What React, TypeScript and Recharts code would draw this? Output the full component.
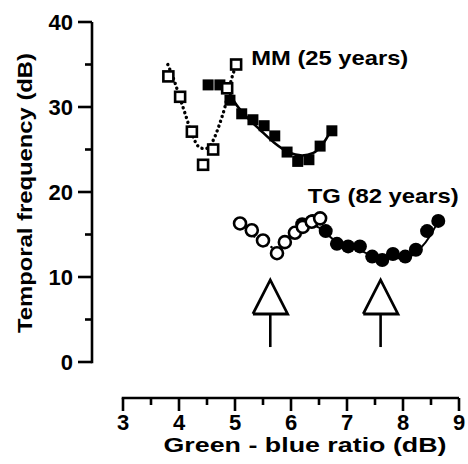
import React from 'react';
import { ComposedChart, XAxis, YAxis, Scatter, Line, Label } from 'recharts';

// ---- data ----
const xTicks = [3, 3.5, 4, 4.5, 5, 5.5, 6, 6.5, 7, 7.5, 8, 8.5, 9];
const yTicks = [0, 5, 10, 15, 20, 25, 30, 35, 40];

// MM (25 years): open squares + dotted fit
const mmOpen = [
  { x: 3.81, y: 33.6 }, { x: 4.02, y: 31.2 }, { x: 4.23, y: 27.1 },
  { x: 4.43, y: 23.2 }, { x: 4.61, y: 25.0 }, { x: 4.86, y: 32.2 }, { x: 5.02, y: 35.0 },
];
const mmOpenFit = [
  { x: 3.80, y: 35.0 }, { x: 3.92, y: 33.0 }, { x: 4.02, y: 31.0 }, { x: 4.12, y: 29.0 },
  { x: 4.22, y: 27.0 }, { x: 4.30, y: 25.8 }, { x: 4.375, y: 25.2 }, { x: 4.47, y: 25.1 },
  { x: 4.56, y: 25.5 }, { x: 4.64, y: 26.5 }, { x: 4.73, y: 28.1 }, { x: 4.82, y: 30.0 },
  { x: 4.89, y: 32.0 }, { x: 4.96, y: 33.8 }, { x: 5.03, y: 35.0 },
];
// MM filled squares + solid fit
const mmFilled = [
  { x: 4.52, y: 32.6 }, { x: 4.73, y: 32.6 }, { x: 4.91, y: 30.8 }, { x: 5.12, y: 29.2 },
  { x: 5.32, y: 28.5 }, { x: 5.52, y: 27.8 }, { x: 5.71, y: 26.6 }, { x: 5.93, y: 24.7 },
  { x: 6.12, y: 23.6 }, { x: 6.32, y: 23.8 }, { x: 6.52, y: 25.4 }, { x: 6.73, y: 27.2 },
];
const mmFilledFit = [
  { x: 4.85, y: 32.3 }, { x: 5.0, y: 30.5 }, { x: 5.2, y: 28.9 }, { x: 5.45, y: 27.3 },
  { x: 5.7, y: 25.8 }, { x: 5.95, y: 24.7 }, { x: 6.2, y: 24.3 }, { x: 6.4, y: 24.6 },
  { x: 6.55, y: 25.5 }, { x: 6.73, y: 27.4 },
];

// TG (82 years): open circles + dotted fit
const tgOpen = [
  { x: 5.09, y: 16.3 }, { x: 5.30, y: 15.5 }, { x: 5.50, y: 14.3 }, { x: 5.75, y: 12.8 },
  { x: 5.89, y: 14.1 }, { x: 6.07, y: 15.2 }, { x: 6.21, y: 15.9 }, { x: 6.37, y: 16.5 },
  { x: 6.52, y: 16.9 },
];
const tgOpenFit = [
  { x: 5.05, y: 16.2 }, { x: 5.3, y: 15.0 }, { x: 5.55, y: 13.8 }, { x: 5.75, y: 13.4 },
  { x: 6.0, y: 14.5 }, { x: 6.25, y: 15.8 }, { x: 6.5, y: 16.6 },
];
// TG filled circles + solid fit
const tgFilled = [
  { x: 6.20, y: 16.2 }, { x: 6.39, y: 16.6 }, { x: 6.62, y: 15.4 }, { x: 6.82, y: 13.9 },
  { x: 7.02, y: 13.6 }, { x: 7.23, y: 13.6 }, { x: 7.45, y: 12.4 }, { x: 7.63, y: 12.0 },
  { x: 7.82, y: 12.7 }, { x: 8.04, y: 12.4 }, { x: 8.23, y: 13.2 }, { x: 8.43, y: 15.4 },
  { x: 8.63, y: 16.6 },
];
const tgFilledFit = [
  { x: 6.2, y: 16.4 }, { x: 6.5, y: 15.8 }, { x: 6.8, y: 14.2 }, { x: 7.2, y: 13.2 },
  { x: 7.6, y: 12.3 }, { x: 8.0, y: 12.2 }, { x: 8.3, y: 13.3 }, { x: 8.5, y: 15.0 },
  { x: 8.63, y: 16.6 },
];

// annotations
const annotations = [
  { x: 5.29, y: 34.9, text: 'MM (25 years)', len: 157 },
  { x: 6.30, y: 18.7, text: 'TG (82 years)', len: 151 },
];

// arrows (tip / base / tail heights, half width in x units)
const arrowXs = [5.63, 7.6];
const arrowTipY = 9.65;
const arrowBaseY = 5.65;
const arrowTailY = 1.76;
const arrowHalfW = 0.31;

const FONT = '"Liberation Sans", Arial, Helvetica, sans-serif';

const OpenSquare = (p: any) =>
  p.cx == null ? null : (
    <rect x={p.cx - 5} y={p.cy - 5} width={10} height={10} fill="#fff" stroke="#000" strokeWidth={2.6} />
  );
const FilledSquare = (p: any) =>
  p.cx == null ? null : <rect x={p.cx - 5.5} y={p.cy - 5.5} width={11} height={11} fill="#000" />;
const OpenCircle = (p: any) =>
  p.cx == null ? null : <circle cx={p.cx} cy={p.cy} r={6} fill="#fff" stroke="#000" strokeWidth={2.6} />;
const FilledCircle = (p: any) =>
  p.cx == null ? null : <circle cx={p.cx} cy={p.cy} r={7} fill="#000" />;
const AnnText = (p: any) =>
  p.cx == null ? null : (
    <text x={p.cx} y={p.cy} fontFamily={FONT} fontWeight="bold" fontSize={21} fill="#000"
      textLength={p.payload.len} lengthAdjust="spacingAndGlyphs">
      {p.payload.text}
    </text>
  );

const X_TICK_SIZE = 13;
const X_TICK_MARGIN = 5;
const XTick = (p: any) => {
  const v = p.payload.value;
  const axisY = p.y - X_TICK_SIZE - X_TICK_MARGIN;
  const major = Number.isInteger(v);
  return (
    <g>
      <line x1={p.x} x2={p.x} y1={axisY} y2={axisY + (major ? 13 : 7)} stroke="#000" strokeWidth={2.6} />
      {major && (
        <text x={p.x} y={axisY + 32} textAnchor="middle" fontFamily={FONT} fontWeight="bold" fontSize={22} fill="#000">
          {v}
        </text>
      )}
    </g>
  );
};

const Y_TICK_SIZE = 14;
const Y_TICK_MARGIN = 5;
const YTick = (p: any) => {
  const v = p.payload.value;
  const axisX = p.x + Y_TICK_SIZE + Y_TICK_MARGIN;
  const major = v % 10 === 0;
  return (
    <g>
      <line x1={axisX - (major ? 14 : 7)} x2={axisX} y1={p.y} y2={p.y} stroke="#000" strokeWidth={2.6} />
      {major && (
        <text x={axisX - 19} y={p.y} dy="0.36em" textAnchor="end" fontFamily={FONT} fontWeight="bold" fontSize={22} fill="#000">
          {v}
        </text>
      )}
    </g>
  );
};

const XLabel = (p: any) => {
  const vb = p.viewBox;
  return (
    <text x={vb.x + vb.width / 2 + 29.5} y={vb.y + 54} textAnchor="middle" fontFamily={FONT} fontWeight="bold"
      fontSize={21} fill="#000" textLength={283} lengthAdjust="spacingAndGlyphs">
      Green - blue ratio (dB)
    </text>
  );
};
const YLabel = (p: any) => {
  const vb = p.viewBox;
  const cx = vb.x + 24;
  const cy = vb.y + vb.height / 2 - 17;
  return (
    <text x={cx} y={cy} transform={`rotate(-90 ${cx} ${cy})`} textAnchor="middle" dominantBaseline="central"
      fontFamily={FONT} fontWeight="bold" fontSize={21} fill="#000" textLength={280} lengthAdjust="spacingAndGlyphs">
      Temporal frequency (dB)
    </text>
  );
};

export default function App() {
  const arrowHeads = arrowXs.map((ax) => [
    { x: ax - arrowHalfW, y: arrowBaseY },
    { x: ax, y: arrowTipY },
    { x: ax + arrowHalfW, y: arrowBaseY },
    { x: ax - arrowHalfW, y: arrowBaseY },
  ]);
  const arrowStems = arrowXs.map((ax) => [
    { x: ax, y: arrowBaseY },
    { x: ax, y: arrowTailY },
  ]);
  return (
    <div style={{ position: 'absolute', left: 0, top: 0, width: 468, height: 464, background: '#fff' }}>
      <ComposedChart width={468} height={464} margin={{ top: 22, right: 9, bottom: 0, left: 0 }}>
        <XAxis
          type="number"
          dataKey="x"
          domain={[3, 9]}
          ticks={xTicks}
          interval={0}
          allowDataOverflow
          padding={{ left: 31, right: 0 }}
          height={66}
          tickSize={X_TICK_SIZE}
          tickMargin={X_TICK_MARGIN}
          tickLine={false}
          axisLine={{ stroke: '#000', strokeWidth: 2.6, strokeDasharray: '0 29.7 337.3 1000' }}
          tick={<XTick />}
        >
          <Label content={<XLabel />} />
        </XAxis>
        <YAxis
          type="number"
          dataKey="y"
          domain={[0, 40]}
          ticks={yTicks}
          interval={0}
          allowDataOverflow
          width={92}
          padding={{ top: 0, bottom: 36 }}
          tickSize={Y_TICK_SIZE}
          tickMargin={Y_TICK_MARGIN}
          tickLine={false}
          axisLine={{ stroke: '#000', strokeWidth: 2.6, strokeDasharray: '341.3 1000' }}
          tick={<YTick />}
        >
          <Label content={<YLabel />} />
        </YAxis>

        <Line data={mmOpenFit} dataKey="y" type="monotone" stroke="#000" strokeWidth={3.4}
          strokeDasharray="0.1 5" strokeLinecap="round" dot={false} isAnimationActive={false} />
        <Line data={mmFilledFit} dataKey="y" type="monotone" stroke="#000" strokeWidth={2.6}
          dot={false} isAnimationActive={false} />
        <Line data={tgOpenFit} dataKey="y" type="monotone" stroke="#000" strokeWidth={2.5}
          strokeDasharray="0.1 5" strokeLinecap="round" dot={false} isAnimationActive={false} />
        <Line data={tgFilledFit} dataKey="y" type="monotone" stroke="#000" strokeWidth={2}
          dot={false} isAnimationActive={false} />

        {arrowHeads.map((d, i) => (
          <Line key={'ah' + i} data={d} dataKey="y" type="linear" stroke="#000" strokeWidth={2.8}
            strokeLinejoin="miter" dot={false} isAnimationActive={false} />
        ))}
        {arrowStems.map((d, i) => (
          <Line key={'as' + i} data={d} dataKey="y" type="linear" stroke="#000" strokeWidth={2.6}
            dot={false} isAnimationActive={false} />
        ))}

        <Scatter data={mmFilled} dataKey="y" shape={FilledSquare} isAnimationActive={false} />
        <Scatter data={mmOpen} dataKey="y" shape={OpenSquare} isAnimationActive={false} />
        <Scatter data={tgFilled} dataKey="y" shape={FilledCircle} isAnimationActive={false} />
        <Scatter data={tgOpen} dataKey="y" shape={OpenCircle} isAnimationActive={false} />
        <Scatter data={annotations} dataKey="y" shape={AnnText} isAnimationActive={false} />
      </ComposedChart>
    </div>
  );
}
